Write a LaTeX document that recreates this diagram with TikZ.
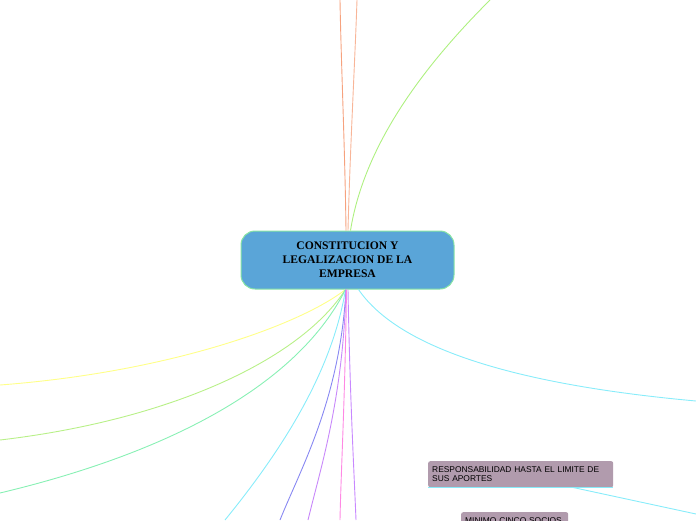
\documentclass[tikz,border=0pt]{standalone}
\usepackage{fontspec}
\setmainfont{Liberation Serif}
\setsansfont{Liberation Sans}
\usetikzlibrary{calc}

\definecolor{topicblue}{HTML}{5AA5D8}
\definecolor{topicedge}{HTML}{88E4A4}
\definecolor{leafmauve}{HTML}{B19BAD}
\definecolor{lineorange}{HTML}{F6A27E}
\definecolor{linelime}{HTML}{AEF080}
\definecolor{lineyellow}{HTML}{FFFF88}
\definecolor{linegreen}{HTML}{B8F088}
\definecolor{linemint}{HTML}{88F0B4}
\definecolor{linecyan}{HTML}{88ECFA}
\definecolor{lineblue}{HTML}{8888F2}
\definecolor{lineviolet}{HTML}{C888FA}
\definecolor{linepink}{HTML}{FF88E4}
\definecolor{linepurple}{HTML}{C888FF}

\begin{document}
\begin{tikzpicture}[x=1pt,y=-1pt,
  branch/.style={line width=0.9pt},
  topic/.style={draw=topicedge, line width=1pt, fill=topicblue, rounded corners=14pt,
    minimum width=213pt, minimum height=58pt, align=center,
    font=\bfseries\fontsize{11.6}{14}\selectfont},
  leaf/.style={fill=leafmauve, rounded corners=2pt, align=left, inner sep=4pt,
    font=\sffamily\fontsize{8.4}{9.5}\selectfont}]
  \useasboundingbox (0,0) rectangle (696,520);
  \clip (0,0) rectangle (696,520);

  % ends of the branches at the border
  \coordinate (t1) at (340,0);
  \coordinate (t2) at (357,0);
  \coordinate (t3) at (490,0);
  \coordinate (l1) at (0,385);
  \coordinate (l2) at (0,440);
  \coordinate (l3) at (0,493);
  \coordinate (b1) at (225,520);
  \coordinate (b2) at (280,520);
  \coordinate (b3) at (308,520);
  \coordinate (b4) at (340,520);
  \coordinate (b5) at (356,520);
  \coordinate (r1) at (696,401);
  \coordinate (r2) at (696,514);

  \node[topic] (C) at (347.5,260) {CONSTITUCION Y\\LEGALIZACION DE LA\\EMPRESA};

  % branches
  \begin{scope}[on background layer/.try]
  \draw[branch, lineorange] ([xshift=-1.5pt]C.north) .. controls (345,150) and (341,60) .. (t1);
  \draw[branch, lineorange!80] ([xshift=0.5pt]C.north) .. controls (350,150) and (355,60) .. (t2);
  \draw[branch, linelime] ([xshift=3pt]C.north) .. controls (365,140) and (430,60) .. (t3);
  \draw[branch, lineyellow] ([xshift=-2pt]C.south) .. controls (300,325) and (170,372) .. (l1);
  \draw[branch, linegreen] ([xshift=-2pt]C.south) .. controls (300,360) and (170,420) .. (l2);
  \draw[branch, linemint] ([xshift=-2pt]C.south) .. controls (300,380) and (180,450) .. (l3);
  \draw[branch, linecyan] ([xshift=-2pt]C.south) .. controls (332,372) and (282,450) .. (b1);
  \draw[branch, lineblue] ([xshift=-1.5pt]C.south) .. controls (340,400) and (300,470) .. (b2);
  \draw[branch, lineviolet] ([xshift=-1.5pt]C.south) .. controls (343,400) and (320,470) .. (b3);
  \draw[branch, linepink] ([xshift=-1pt]C.south) .. controls (345,400) and (341,470) .. (b4);
  \draw[branch, linepurple] ([xshift=0.5pt]C.south) .. controls (350,400) and (354,470) .. (b5);
  \draw[branch, linecyan] ([xshift=11pt]C.south) .. controls (400,350) and (520,385) .. (r1);
  \end{scope}

  \node[leaf, anchor=north west, text width=177pt, minimum height=26pt] (aportes) at (428,461)
    {RESPONSABILIDAD HASTA EL LIMITE DE\\SUS APORTES};
  \draw[branch, linecyan] (aportes.south west) -- (aportes.south east);
  \draw[branch, linecyan] ([xshift=52pt]aportes.south) -- (r2);

  \node[leaf, anchor=north west, text width=99pt, minimum height=16pt] (socios) at (461,512)
    {MINIMO CINCO SOCIOS};
\end{tikzpicture}
\end{document}
